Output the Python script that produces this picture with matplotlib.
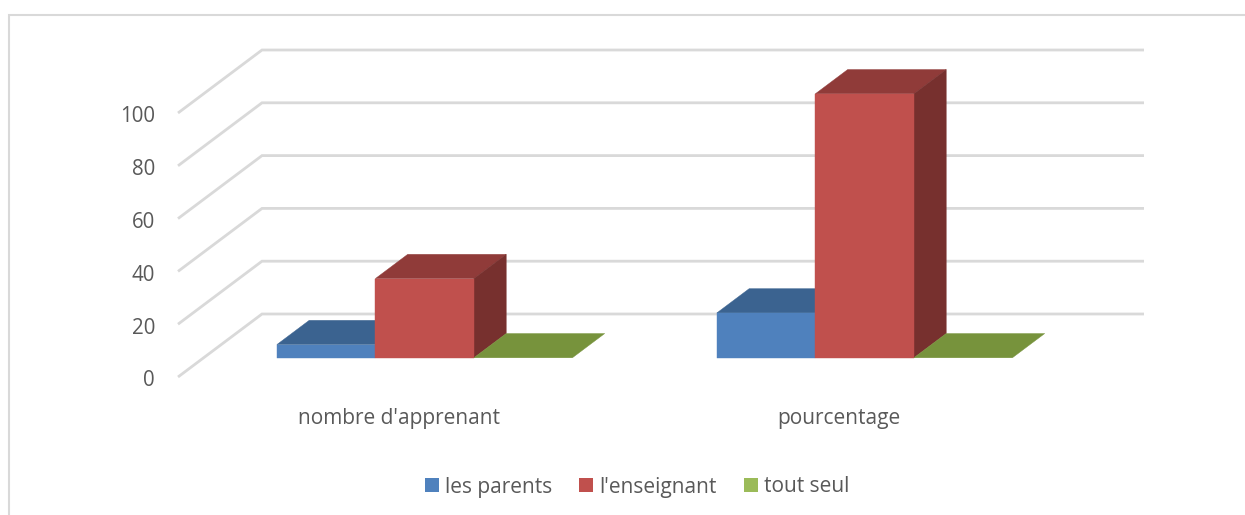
import matplotlib
matplotlib.use("Agg")
import matplotlib.pyplot as plt
from matplotlib.lines import Line2D
from matplotlib.patches import Patch, Polygon
from matplotlib.transforms import ScaledTranslation

categories = ["nombre d'apprenant", "pourcentage"]
series_names = ["les parents", "l'enseignant", "tout seul"]
parents = [5, 17]
enseignant = [30, 100]
tout_seul = [0, 0]
yticks = [0, 20, 40, 60, 80, 100]

front_colors = ["#4F81BD", "#C0504D", "#9BBB59"]
top_colors = ["#3B6390", "#903B39", "#77933C"]
side_colors = ["#2F4F73", "#77302E", "#5E7530"]

W, H = 1245, 515
plt.rcParams["font.family"] = ["Open Sans", "DejaVu Sans"]
TEXT = "#595959"
GRID = "#D9D9D9"

fig = plt.figure(figsize=(W / 100, H / 100), dpi=100)
L, R, B0, T0 = 178, 1144, 377, 113
ax = fig.add_axes([L / W, (H - B0) / H, (R - L) / W, (B0 - T0) / H])

PX_X = 440.0            # pixels per category
PX_V = (B0 - T0) / 100  # pixels per value unit
ax.set_xlim((L - 399) / PX_X, (R - 399) / PX_X)
ax.set_ylim(0, 100)
DX, DY = 84 / PX_X, 63 / PX_V   # full depth of the floor
BAR_W = 98.5 / PX_X


def proj(x, v, d):
    return (x + d * DX, v + d * DY)


# walls
for v in yticks:
    xs = [ax.get_xlim()[0], ax.get_xlim()[0] + DX, ax.get_xlim()[1]]
    ys = [v, v + DY, v + DY]
    ax.plot(xs, ys, color=GRID, lw=2.0, clip_on=False, zorder=1,
            solid_joinstyle="miter", solid_capstyle="butt")

# bars
D_F, D_B = 0.305, 0.69
for s, vals in enumerate([parents, enseignant, tout_seul]):
    for c, v in enumerate(vals):
        x0 = c + (s - 1.5) * BAR_W
        x1 = x0 + BAR_W
        z = 3 + s * 0.1
        def face(pts, col):
            ax.add_patch(Polygon(pts, facecolor=col, edgecolor=col, lw=0.3, clip_on=False, zorder=z))
        face([proj(x0, v, D_F), proj(x1, v, D_F), proj(x1, v, D_B), proj(x0, v, D_B)], top_colors[s])
        if v > 0:
            face([proj(x1, 0, D_F), proj(x1, v, D_F), proj(x1, v, D_B), proj(x1, 0, D_B)], side_colors[s])
            face([proj(x0, 0, D_F), proj(x1, 0, D_F), proj(x1, v, D_F), proj(x0, v, D_F)], front_colors[s])

for sp in ax.spines.values():
    sp.set_visible(False)
ax.patch.set_visible(False)
ax.set_yticks(yticks)
ax.set_xticks(range(len(categories)))
ax.set_xticklabels(categories)
ax.tick_params(axis="y", length=0, pad=16.5, labelsize=14.8, labelcolor=TEXT)
ax.tick_params(axis="x", length=0, pad=22, labelsize=15, labelcolor=TEXT)
shift = ScaledTranslation(0, -1.5 / 72 * 72 / 100, fig.dpi_scale_trans)
for lab in ax.get_yticklabels():
    lab.set_transform(lab.get_transform() + shift)

# chart frame (open at right and bottom)
fig.add_artist(Line2D([9 / W, 9 / W, 1], [0, (H - 15) / H, (H - 15) / H], color=GRID, lw=1.5,
                      transform=fig.transFigure, solid_joinstyle="miter"))

handles = [Patch(facecolor=c, edgecolor="none", label=n) for c, n in zip(front_colors, series_names)]
fig.legend(handles=handles, loc="center", bbox_to_anchor=(637 / W, (H - 487) / H), ncol=3, frameon=False,
           fontsize=15, labelcolor=TEXT, handlelength=0.667, handleheight=0.667,
           handletextpad=0.29, columnspacing=1.3, borderpad=0, borderaxespad=0)

fig.savefig("out.png", dpi=100, facecolor="white")
